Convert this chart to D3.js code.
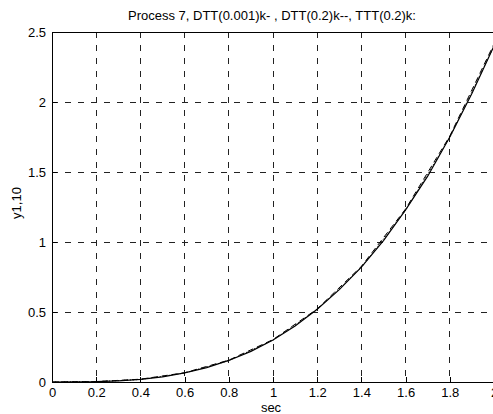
<!DOCTYPE html>
<html>
<head>
<meta charset="utf-8">
<script src="https://cdn.jsdelivr.net/npm/d3@7"></script>
<style>
  body { margin: 0; background: #fff; overflow: hidden; }
  svg { display: block; font-family: "Liberation Sans", Arial, sans-serif; }
</style>
</head>
<body>
<div id="chart"></div>
<script>
// tick values
const xTicks = [0, 0.2, 0.4, 0.6, 0.8, 1, 1.2, 1.4, 1.6, 1.8, 2];
const yTicks = [0, 0.5, 1, 1.5, 2, 2.5];

// DTT(0.001) - solid
const tFine = [0, 0.1, 0.2, 0.3, 0.4, 0.5, 0.6, 0.7, 0.8, 0.9, 1.0, 1.1, 1.2, 1.3, 1.4, 1.5, 1.6, 1.7, 1.8, 1.9, 2.0];
const yFine = [0, 0.0003, 0.0024, 0.008, 0.019, 0.037, 0.065, 0.103, 0.154, 0.219, 0.30, 0.40, 0.52, 0.66, 0.82, 1.01, 1.23, 1.47, 1.75, 2.06, 2.40];

// DTT(0.2) -- dashed
const tCoarse = [0, 0.2, 0.4, 0.6, 0.8, 1.0, 1.2, 1.4, 1.6, 1.8, 2.0];
const yDashed = [0, 0.003, 0.020, 0.066, 0.156, 0.303, 0.522, 0.826, 1.236, 1.757, 2.415];

// TTT(0.2) : dotted
const yDotted = [0, 0.002, 0.018, 0.064, 0.153, 0.299, 0.518, 0.818, 1.226, 1.746, 2.40];

const W = 493, H = 414;
const margin = { top: 32, right: -1, bottom: 32, left: 52 };
const innerW = W - margin.left - margin.right;
const innerH = H - margin.top - margin.bottom;

const svg = d3.select("#chart").append("svg")
  .attr("width", W)
  .attr("height", H);

const g = svg.append("g")
  .attr("transform", "translate(" + margin.left + "," + margin.top + ")");

const x = d3.scaleLinear().domain([0, 2]).range([0, innerW]);
const y = d3.scaleLinear().domain([0, 2.5]).range([innerH, 0]);

// grid
g.selectAll(".vgrid")
  .data(xTicks.slice(1, -1))
  .join("line")
  .attr("x1", d => x(d)).attr("x2", d => x(d))
  .attr("y1", 0).attr("y2", innerH)
  .attr("stroke", "#222").attr("stroke-width", 1)
  .attr("stroke-dasharray", "6,7")
  .attr("shape-rendering", "crispEdges");

g.selectAll(".hgrid")
  .data(yTicks.slice(1, -1))
  .join("line")
  .attr("x1", 0).attr("x2", innerW)
  .attr("y1", d => y(d)).attr("y2", d => y(d))
  .attr("stroke", "#222").attr("stroke-width", 1)
  .attr("stroke-dasharray", "6,7")
  .attr("shape-rendering", "crispEdges");

// axes
const xAxis = d3.axisBottom(x).tickValues(xTicks).tickSize(-5).tickPadding(6)
  .tickFormat(d3.format("~g"));
const yAxis = d3.axisLeft(y).tickValues(yTicks).tickSize(-5).tickPadding(6)
  .tickFormat(d3.format("~g"));

const gx = g.append("g").attr("transform", "translate(0," + innerH + ")").call(xAxis);
const gy = g.append("g").call(yAxis);
[gx, gy].forEach(a => {
  a.select(".domain").remove();
  a.selectAll("line").attr("stroke", "#000").attr("shape-rendering", "crispEdges");
  a.selectAll("text").attr("fill", "#000").style("font-size", "13px");
});

// box
g.append("rect")
  .attr("x", 0).attr("y", 0)
  .attr("width", innerW).attr("height", innerH)
  .attr("fill", "none").attr("stroke", "#000").attr("stroke-width", 1)
  .attr("shape-rendering", "crispEdges");

// curves
const line = d3.line().x(d => x(d[0])).y(d => y(d[1]));

g.append("path")
  .datum(tFine.map((t, i) => [t, yFine[i]]))
  .attr("d", line)
  .attr("fill", "none").attr("stroke", "#000").attr("stroke-width", 1.2);

g.append("path")
  .datum(tCoarse.map((t, i) => [t, yDashed[i]]))
  .attr("d", line)
  .attr("fill", "none").attr("stroke", "#000").attr("stroke-width", 1)
  .attr("stroke-dasharray", "6,4");

g.append("path")
  .datum(tCoarse.map((t, i) => [t, yDotted[i]]))
  .attr("d", line)
  .attr("fill", "none").attr("stroke", "#000").attr("stroke-width", 1)
  .attr("stroke-dasharray", "1,2");

// title and labels
svg.append("text")
  .attr("x", 272).attr("y", 20)
  .attr("text-anchor", "middle")
  .style("font-size", "13px")
  .text("Process 7, DTT(0.001)k- , DTT(0.2)k--, TTT(0.2)k:");

svg.append("text")
  .attr("x", 271).attr("y", 412)
  .attr("text-anchor", "middle")
  .style("font-size", "13px")
  .text("sec");

svg.append("text")
  .attr("transform", "translate(21," + (margin.top + innerH / 2 - 4) + ") rotate(-90)")
  .attr("text-anchor", "middle")
  .style("font-size", "13px")
  .text("y1,10");
</script>
</body>
</html>
